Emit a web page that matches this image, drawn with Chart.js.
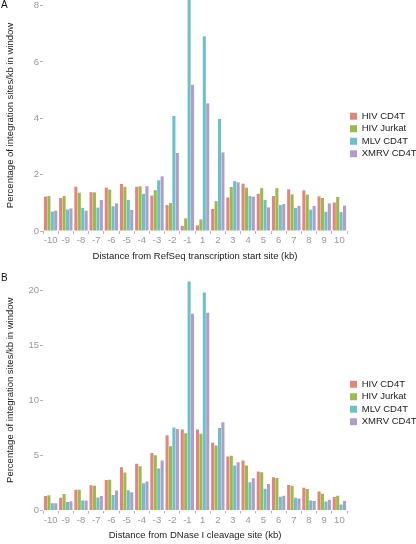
<!DOCTYPE html>
<html><head><meta charset="utf-8">
<script src="https://cdn.jsdelivr.net/npm/chart.js@4/dist/chart.umd.min.js"></script>
<style>
html,body{margin:0;padding:0;background:#fff;overflow:hidden;}
#wrapA{position:absolute;left:0;top:0;width:416px;height:270px;}
#wrapB{position:absolute;left:0;top:270px;width:416px;height:274px;}
</style></head><body>
<div id="wrapA"><canvas id="cA" width="416" height="270"></canvas></div>
<div id="wrapB"><canvas id="cB" width="416" height="274"></canvas></div>
<script>
// ---- data ----
const categories = ["-10","-9","-8","-7","-6","-5","-4","-3","-2","-1","1","2","3","4","5","6","7","8","9","10"];
const seriesNames = ["HIV CD4T","HIV Jurkat","MLV CD4T","XMRV CD4T"];
const seriesColors = ["#E0877B","#9BBA4C","#6CC1C8","#B29CCB"];

// Panel A: distance from RefSeq transcription start site
const hivCD4T_A   = [1.22,1.17,1.57,1.38,1.54,1.67,1.57,1.26,0.92,0.18,0.20,0.78,1.19,1.68,1.32,1.24,1.48,1.44,1.23,1.01];
const hivJurkat_A = [1.24,1.24,1.36,1.37,1.47,1.57,1.59,1.45,0.99,0.45,0.41,1.06,1.56,1.54,1.52,1.52,1.30,1.29,1.17,1.21];
const mlvCD4T_A   = [0.69,0.76,0.82,0.83,0.88,1.10,1.32,1.80,4.08,8.60,6.91,3.98,1.77,1.24,1.10,0.92,0.82,0.76,0.68,0.67];
const xmrvCD4T_A  = [0.72,0.80,0.72,1.10,0.98,0.75,1.59,1.94,2.77,5.19,4.53,2.79,1.73,1.22,0.84,0.96,0.89,0.89,0.98,0.90];
const yTicksA = [0,2,4,6,8];

// Panel B: distance from DNase I cleavage site
const hivCD4T_B   = [1.33,1.15,1.88,2.31,2.77,3.93,4.26,5.23,6.85,7.37,7.37,6.18,4.92,4.56,3.55,3.03,2.32,2.08,1.74,1.22];
const hivJurkat_B = [1.39,1.51,1.88,2.25,2.80,3.47,4.03,5.02,5.84,7.03,7.00,5.93,4.98,4.10,3.49,2.97,2.26,1.96,1.53,1.35];
const mlvCD4T_B   = [0.66,0.78,0.90,1.18,1.42,1.85,2.48,3.82,7.55,20.86,19.85,7.52,4.10,2.57,1.99,1.25,1.16,0.92,0.83,0.55];
const xmrvCD4T_B  = [0.66,0.84,0.90,1.33,1.82,1.67,2.63,4.56,7.43,17.92,18.00,8.04,4.40,2.94,2.42,1.35,1.10,0.86,0.98,0.86];
const yTicksB = [0,5,10,15,20];

const FONT = '"Liberation Sans", Arial, sans-serif';

const panelLabel = {
  id: 'panelLabel',
  afterLayout(chart, args, opts) {
    const lg = chart.legend;
    if (lg && opts.legendShift) { lg.top += opts.legendShift; lg.bottom += opts.legendShift; }
  },
  afterDraw(chart, args, opts) {
    const ctx = chart.ctx;
    ctx.save();
    ctx.font = '10px ' + FONT;
    ctx.fillStyle = '#111';
    ctx.textBaseline = 'top';
    ctx.fillText(opts.text, opts.x, opts.y);
    ctx.restore();
  }
};

function makeChart(canvasId, seriesData, yTicks, yMax, xTitle, xAxisHeight, titleBottom, label, labelY, legendShift) {
  return new Chart(document.getElementById(canvasId), {
    type: 'bar',
    data: {
      labels: categories,
      datasets: seriesData.map((d, i) => ({
        label: seriesNames[i],
        data: d,
        backgroundColor: seriesColors[i],
        borderWidth: 0,
        barPercentage: 0.9,
        categoryPercentage: 0.9
      }))
    },
    options: {
      responsive: false,
      animation: false,
      layout: { padding: 0 },
      plugins: {
        tooltip: { enabled: false },
        legend: {
          position: 'right',
          align: 'center',
          maxWidth: 69,
          labels: {
            boxWidth: 7, boxHeight: 7, padding: 3,
            color: '#222',
            font: { family: FONT, size: 9.5 }
          }
        },
        panelLabel: { text: label, x: 1, y: labelY, legendShift: legendShift }
      },
      scales: {
        x: {
          offset: true,
          grid: { offset: true, drawOnChartArea: false, drawTicks: true, tickLength: 3, color: '#b5b5b5' },
          border: { display: false },
          ticks: { color: '#999', font: { family: FONT, size: 9.5 }, padding: 1, maxRotation: 0, autoSkip: false },
          title: { display: true, text: xTitle, color: '#222', font: { family: FONT, size: 9.5 }, padding: { top: 3, bottom: titleBottom } },
          afterFit(scale) { scale.height = xAxisHeight; scale.paddingLeft = 0; scale.paddingRight = 0; }
        },
        y: {
          min: 0, max: yMax,
          grid: { drawOnChartArea: false, drawTicks: true, tickLength: 3, color: '#b5b5b5' },
          border: { display: false },
          ticks: { color: '#999', font: { family: FONT, size: 9.5 }, padding: 1 },
          afterBuildTicks(scale) { scale.ticks = yTicks.map(v => ({ value: v })); },
          title: { display: true, text: 'Percentage of integration sites/kb in window', color: '#222', font: { family: FONT, size: 9.5 }, padding: { top: 4.5, bottom: 0 } },
          afterFit(scale) { scale.width = 43; scale.paddingTop = 0; scale.paddingBottom = 0; }
        }
      }
    },
    plugins: [panelLabel]
  });
}

makeChart('cA', [hivCD4T_A, hivJurkat_A, mlvCD4T_A, xmrvCD4T_A], yTicksA, 8.2,
  'Distance from RefSeq transcription start site (kb)', 39, 8, 'A', 0, 0);
makeChart('cB', [hivCD4T_B, hivJurkat_B, mlvCD4T_B, xmrvCD4T_B], yTicksB, 21.9,
  'Distance from DNase I cleavage site (kb)', 33.5, 3, 'B', 3, -4);
</script>
</body></html>
